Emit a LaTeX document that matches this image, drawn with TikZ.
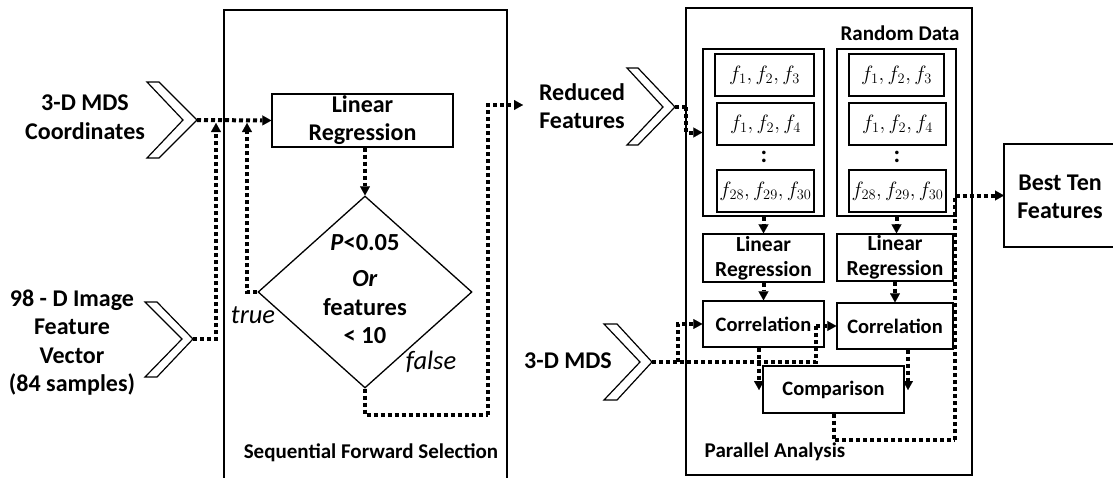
\documentclass[tikz,border=0pt]{standalone}
\usepackage{fontspec}
\setmainfont{Carlito}
\usetikzlibrary{arrows.meta,shapes.geometric,calc}
\begin{document}
\begin{tikzpicture}[x=1pt,y=-1pt,
  frame/.style={draw,line width=1.3pt},
  box/.style={draw,line width=1.3pt,inner sep=0pt,align=center,
    font=\fontsize{24}{28}\selectfont\bfseries},
  sbox/.style={box,font=\fontsize{20.5}{25}\selectfont\bfseries},
  lrbox/.style={box,font=\fontsize{21.5}{25}\selectfont\bfseries},
  fbox/.style={draw,line width=1.3pt,inner sep=0pt,font=\fontsize{20}{22}\selectfont},
  lbl/.style={align=center,inner sep=0pt,font=\fontsize{24}{28.5}\selectfont\bfseries},
  ttl/.style={inner sep=0pt,font=\fontsize{21}{24}\selectfont\bfseries},
  chev/.style={draw,line width=1.2pt,fill=white,line join=miter},
  flow/.style={line width=4pt,dash pattern=on 4pt off 3pt,line cap=butt,
    -{Triangle[length=9pt,width=10pt,line width=0.1pt]}},
  flowplain/.style={line width=4pt,dash pattern=on 4pt off 3pt,line cap=butt}]
\clip (0,0) rectangle (1113,477);

% ---------------- outer frames ----------------
\draw[frame] (224,10) rectangle (507,495);
\draw[frame] (686,8) rectangle (972,475);

% ---------------- inputs ----------------
\node[lbl] (inA) at (85,117) {3-D MDS\\Coordinates};
\draw[chev] (147,82) -- (159,82) -- (197,120) -- (159,158) -- (147,158) -- (183,120) -- cycle;
\coordinate (tipA) at (197,120);

\node[lbl] (inB) at (72,342.5) {98 - D Image\\Feature\\Vector\\(84 samples)};
\draw[chev] (145,302) -- (157,302) -- (193,339) -- (157,377) -- (145,377) -- (182,339) -- cycle;
\coordinate (tipB) at (193,339);

% ---------------- sequential forward selection ----------------
\node[box,minimum width=181pt,minimum height=53pt] (lr1) at (362.5,120.5) {Linear\\Regression};
\node[diamond,draw,line width=1.3pt,minimum width=214pt,minimum height=192pt,inner sep=0pt] (dia) at (365,292) {};
\node[align=center,inner sep=0pt,font=\fontsize{24.5}{28.5}\selectfont\bfseries] (cond) at (365,289)
  {\textit{P}<0.05\\[8pt]\textit{Or}\\features\\< 10};
\node[inner sep=0pt,font=\fontsize{26.5}{30}\selectfont\itshape] (tru) at (253,315) {true};
\node[inner sep=0pt,font=\fontsize{26.5}{30}\selectfont\itshape] (fal) at (431,362) {false};
\node[ttl] (sfs) at (371,453) {Sequential Forward Selection};

\coordinate (jA) at (216,123);
\coordinate (jB) at (247,123);
\coordinate (fA) at (488,415);
\coordinate (fB) at (523,105);

\draw[flow] (tipA) -- (lr1.west);
\draw[flow] (tipB) -| (jA);
\draw[flow] (dia.west) -| (jB);
\draw[flow] (lr1.south -| dia.north) -- (dia.north);
\draw[flowplain] (dia.south) |- (fA);
\draw[flow] (fA) |- (fB);

% ---------------- parallel analysis ----------------
\node[lbl] (red) at (582,106) {Reduced\\Features};
\draw[chev] (627,68) -- (638,68) -- (675,107) -- (638,145) -- (627,145) -- (663,107) -- cycle;
\coordinate (tipC) at (675,107);
\coordinate (rA) at (686,107);

\node[ttl] (rnd) at (900,33) {Random Data};
\node[draw,line width=1.3pt,minimum width=121pt,minimum height=167pt,inner sep=0pt] (panL) at (763.5,132.5) {};
\node[draw,line width=1.3pt,minimum width=119pt,minimum height=167pt,inner sep=0pt] (panR) at (896.5,132.5) {};

\node[fbox,minimum width=99pt,minimum height=42pt] (fL1) at (764.5,75) {$f_1, f_2, f_3$};
\node[fbox,minimum width=97pt,minimum height=42pt] (fL2) at (765.5,124) {$f_1, f_2, f_4$};
\node[inner sep=0pt,font=\fontsize{24}{24}\selectfont\bfseries] (dL) at (764,157) {:};
\node[fbox,minimum width=97pt,minimum height=42pt] (fL3) at (765.5,191) {$f_{28}, f_{29}, f_{30}$};

\node[fbox,minimum width=95pt,minimum height=42pt] (fR1) at (896.5,75) {$f_1, f_2, f_3$};
\node[fbox,minimum width=97pt,minimum height=42pt] (fR2) at (897.5,124) {$f_1, f_2, f_4$};
\node[inner sep=0pt,font=\fontsize{24}{24}\selectfont\bfseries] (dR) at (897,157) {:};
\node[fbox,minimum width=97pt,minimum height=42pt] (fR3) at (897.5,191) {$f_{28}, f_{29}, f_{30}$};

\node[lrbox,minimum width=121pt,minimum height=48pt] (lrL) at (763.5,258) {Linear\\Regression};
\node[lrbox,minimum width=116pt,minimum height=47pt] (lrR) at (895,257.5) {Linear\\Regression};
\node[sbox,minimum width=121pt,minimum height=46pt] (corL) at (763.5,324) {Correlation};
\node[sbox,minimum width=116pt,minimum height=46pt] (corR) at (895,326) {Correlation};
\node[sbox,minimum width=141pt,minimum height=47pt] (cmp) at (833.5,389.5) {Comparison};
\node[ttl] (pa) at (775,452) {Parallel Analysis};

\node[lbl] (mds) at (568,361) {3-D MDS};
\draw[chev] (604,324) -- (617,324) -- (652,362) -- (617,400) -- (604,400) -- (640,362) -- cycle;
\coordinate (tipD) at (652,362);
\coordinate (mA) at (678,362);
\coordinate (mB) at (816,326);

\coordinate (cL) at (759,390);
\coordinate (cR) at (908,390);
\coordinate (bA) at (955,440);

\draw[flowplain] (tipC) -- (rA);
\draw[flow] (rA) |- (panL.west);
\draw[flow] (panL.south) -- (lrL.north);
\draw[flow] (panR.south) -- (panR.south |- lrR.north);
\draw[flow] (lrL.south) -- (corL.north);
\draw[flow] (lrR.south) -- (corR.north);
\draw[flow] (mA) |- (corL.west);
\draw[flowplain] (tipD) -| (mB);
\draw[flow] (mB) -- (corR.west);
\draw[flow] (cL |- corL.south) -- (cL);
\draw[flow] (cR |- corR.south) -- (cR);
\draw[flowplain] (cmp.south) |- (bA);
\draw[flow] (bA) |- (1004,195.5);

% ---------------- result ----------------
\draw[frame] (1120,144) -- (1004,144) -- (1004,247) -- (1120,247);
\node[lbl] (best) at (1060,197) {Best Ten\\Features};
\end{tikzpicture}
\end{document}
